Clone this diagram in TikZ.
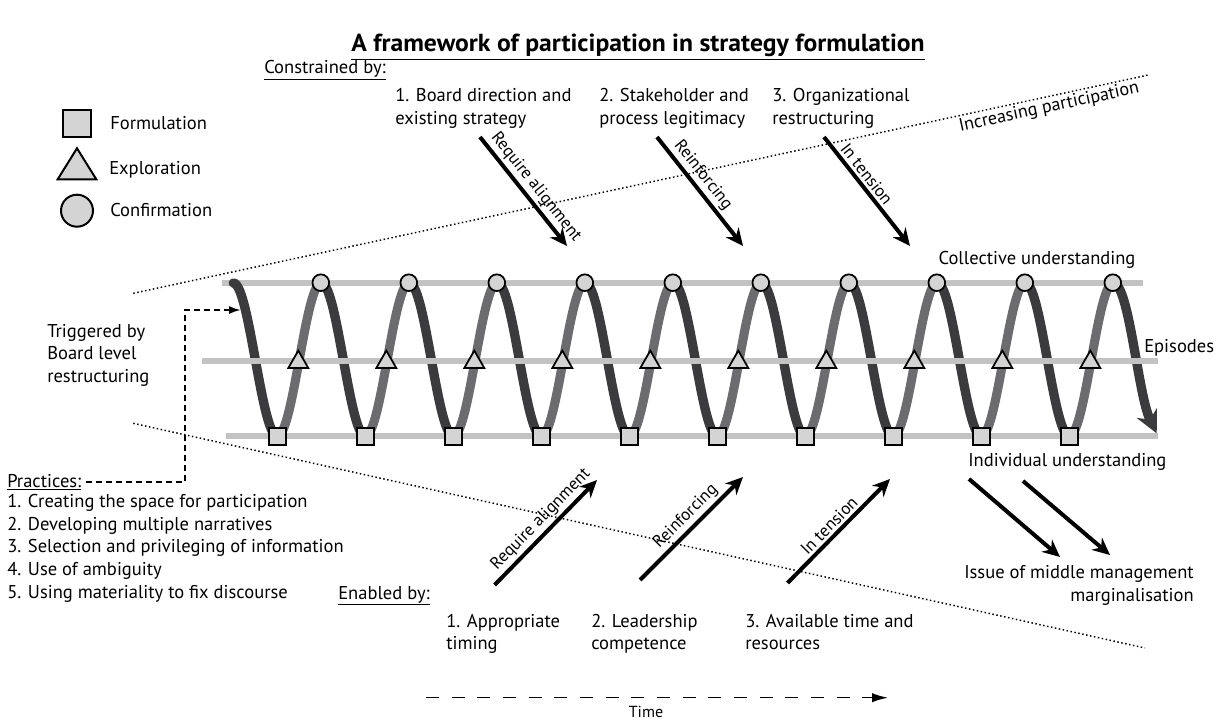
\documentclass[tikz,border=0pt]{standalone}
\usepackage{fontspec}
\setmainfont{PT Sans}
\usetikzlibrary{arrows.meta,shapes.geometric}
\definecolor{spdark}{HTML}{3B3B3D}
\definecolor{splight}{HTML}{6C6C6F}
\definecolor{railc}{HTML}{C3C3C3}
\definecolor{mfill}{HTML}{D4D4D4}
\newcommand{\mlines}[1]{\begin{tabular}[t]{@{}l@{}}#1\end{tabular}}
\newcommand{\mlinesr}[1]{\begin{tabular}[t]{@{}r@{}}#1\end{tabular}}
\begin{document}
\begin{tikzpicture}[x=0.75pt,y=-0.75pt,
 txt/.style={font=\fontsize{13.9pt}{17pt}\selectfont, inner sep=0pt, anchor=base west},
 rail/.style={line width=4.5pt, draw=railc},
 dstrand/.style={line width=7pt, draw=spdark, line cap=round},
 lstrand/.style={line width=6.8pt, draw=splight},
 mk/.style={draw=black, fill=mfill, line width=1.3pt, inner sep=0pt},
 sqm/.style={mk, rectangle, minimum size=12.5pt},
 cim/.style={mk, circle, minimum size=12.5pt},
 trm/.style={mk, regular polygon, regular polygon sides=3, minimum size=17.3pt},
 bigarrow/.style={line width=3pt, -{Stealth[length=13pt,width=12pt]}},
 dotline/.style={line width=1.1pt, dash pattern=on 1.1pt off 1.9pt},
 albl/.style={font=\fontsize{12.8pt}{14pt}\selectfont, inner sep=2pt, sloped, above},
 dashconn/.style={line width=1.5pt, dash pattern=on 4.5pt off 3pt, -{Latex[length=9pt,width=6pt]}},
]
\useasboundingbox (0,0) rectangle (1219,720);

% title
\node[anchor=base, inner sep=0pt] (title) at (638,52) {\resizebox{430pt}{\height}{\fontsize{18.5pt}{20pt}\selectfont\bfseries\underline{A framework of participation in strategy formulation}}};

% legend
\node[mk, rectangle, minimum size=20.5pt, line width=1.5pt] (lgsq) at (77,123.5) {};
\draw[mk, line width=1.5pt] (57.7,179.3) -- (96.3,179.3) -- (77,148.3) -- cycle;
\node[mk, circle, minimum size=24pt, line width=1.5pt] (lgci) at (77,210.7) {};
\node[txt] (lgsqt) at (110,130) {Formulation};
\node[txt] (lgtrt) at (109,174.5) {Exploration};
\node[txt] (lgcit) at (110,216.5) {Confirmation};

% dotted boundary lines
\coordinate (dt1) at (133.3,293.3);
\coordinate (dt2) at (1148.3,75);
\coordinate (db1) at (133.3,423.3);
\coordinate (db2) at (1145,648);
\draw[dotline] (dt1) -- (dt2) node[pos=0.9, sloped, below, inner sep=1.5pt, font=\fontsize{13.6pt}{17pt}\selectfont] (incp) {Increasing participation};
\draw[dotline] (db1) -- (db2);

% rails (outer ones below the coil)
\coordinate (r1a) at (221.7,282.7); \coordinate (r1b) at (1143.3,282.7);
\coordinate (r2a) at (201.7,361.2); \coordinate (r2b) at (1158.3,361.2);
\coordinate (r3a) at (226,436);     \coordinate (r3b) at (1158.3,436);
\draw[rail] (r1a) -- (r1b);
\draw[rail] (r3a) -- (r3b);

% spiral
\foreach \k in {0,...,9}{
  \pgfmathsetmacro\xa{233.3+88*\k}
  \pgfmathsetmacro\xb{\xa+44}
  \pgfmathsetmacro\xc{\xb+44}
  \draw[lstrand] plot[domain=\xb:\xc, samples=30, smooth] (\x,{359.5-76.5*cos((\x-233.3)*4.090909)});
  \draw[dstrand] plot[domain=\xa:\xb, samples=30, smooth] (\x,{359.5-76.5*cos((\x-233.3)*4.090909)});
}
\draw[dstrand, line cap=butt, -{Stealth[length=17pt,width=17pt,line width=0pt]}] (1113.3,283) .. controls (1129,283) and (1138,395) .. (1156.7,433.3);

% middle rail over the coil
\draw[rail] (r2a) -- (r2b);

% markers
\foreach \k in {0,...,9}{
  \pgfmathsetmacro\xs{277.3+88*\k}
  \pgfmathsetmacro\xt{\xs+21}
  \pgfmathsetmacro\xcc{\xs+43.5}
  \node[sqm] (sq\k) at (\xs,436.3) {};
  \node[trm] (tr\k) at (\xt,362.2) {};
  \node[cim] (ci\k) at (\xcc,282.7) {};
}

% right-side labels
\node[txt] (coll) at (938.3,264) {Collective understanding};
\node[txt] (epis) at (1144,352.5) {Episodes};
\node[txt] (indiv) at (968,466) {Individual understanding};
\node[txt, anchor=base east] (issue) at (1194,578.5) {\mlinesr{Issue of middle management\\marginalisation}};
\coordinate (ia1) at (969,479); \coordinate (ib1) at (1060,557);
\coordinate (ia2) at (1023,481); \coordinate (ib2) at (1110,555);
\draw[bigarrow] (ia1) -- (ib1);
\draw[bigarrow] (ia2) -- (ib2);

% constrained by
\node[txt] (constr) at (264,74) {\underline{Constrained by:}};
\node[txt] (c1) at (395,102) {\mlines{1. Board direction and\\existing strategy}};
\node[txt] (c2) at (599,102) {\mlines{2. Stakeholder and\\process legitimacy}};
\node[txt] (c3) at (772,102) {\mlines{3. Organizational\\restructuring}};
\coordinate (ca1) at (480,137); \coordinate (cb1) at (567,246);
\coordinate (ca2) at (657,137); \coordinate (cb2) at (743,246);
\coordinate (ca3) at (824,137); \coordinate (cb3) at (910,246);
\draw[bigarrow] (ca1) -- (cb1) node[albl, pos=0.53] (cl1) {Require alignment};
\draw[bigarrow] (ca2) -- (cb2) node[albl, pos=0.42] (cl2) {Reinforcing};
\draw[bigarrow] (ca3) -- (cb3) node[albl, pos=0.40] (cl3) {In tension};

% enabled by
\node[txt] (enab) at (338,599) {\underline{Enabled by:}};
\node[txt] (e1) at (446,627) {\mlines{1. Appropriate\\timing}};
\node[txt] (e2) at (591,627) {\mlines{2. Leadership\\competence}};
\node[txt] (e3) at (745,627) {\mlines{3. Available time and\\resources}};
\coordinate (ea1) at (494.6,585); \coordinate (eb1) at (597,480);
\coordinate (ea2) at (640,580);   \coordinate (eb2) at (743,477);
\coordinate (ea3) at (787.5,583); \coordinate (eb3) at (890,479);
\draw[bigarrow] (ea1) -- (eb1) node[albl, pos=0.54] (el1) {Require alignment};
\draw[bigarrow] (ea2) -- (eb2) node[albl, pos=0.53] (el2) {Reinforcing};
\draw[bigarrow] (ea3) -- (eb3) node[albl, pos=0.48] (el3) {In tension};

% trigger and practices
\node[txt] (trig) at (47,337) {\mlines{Triggered by\\Board level\\restructuring}};
\node[txt] (prac) at (7,487) {\underline{Practices:}};
\node[txt] (plist) at (7,507.5) {\mlines{1. Creating the space for participation\\2. Developing multiple narratives\\3. Selection and privileging of information\\4. Use of ambiguity\\5. Using materiality to fix discourse}};
\coordinate (bendT) at (184.5,310);
\coordinate (trigpt) at (241,310);
\draw[dashconn, shorten <=3pt] (prac.east) -| (bendT) -- (trigpt);

% time
\coordinate (tma) at (426,697.7);
\coordinate (tmb) at (888,697.7);
\draw[line width=1.1pt, dash pattern=on 9.75pt off 9.5pt, -{Latex[length=12pt,width=7pt]}] (tma) -- (tmb);
\node[txt, anchor=base, font=\fontsize{12pt}{14pt}\selectfont] (time) at (646,717) {Time};
\end{tikzpicture}
\end{document}
